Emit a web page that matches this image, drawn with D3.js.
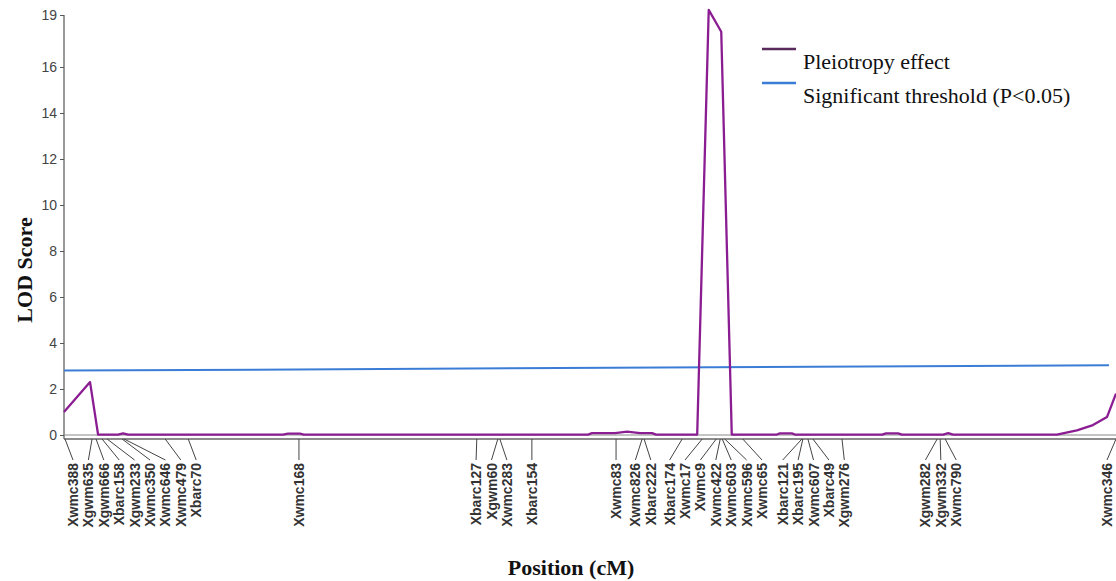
<!DOCTYPE html>
<html lang="en">
<head>
    <meta charset="UTF-8">
    <title>LOD profile</title>
    <script src="https://d3js.org/d3.v7.min.js"></script>
    <style>
        body { margin: 0; background: #fff; }
    </style>
</head>
<body>
    <svg id="chart" width="1116" height="581"></svg>
    <script>
        // markers on the linkage map (cM)
        const markerNames = ["Xwmc388", "Xgwm635", "Xgwm666", "Xbarc158", "Xgwm233", "Xwmc350", "Xwmc646", "Xwmc479", "Xbarc70",
            "Xwmc168", "Xbarc127", "Xgwm60", "Xwmc283", "Xbarc154", "Xwmc83", "Xwmc826", "Xbarc222", "Xbarc174",
            "Xwmc17", "Xwmc9", "Xwmc422", "Xwmc603", "Xwmc596", "Xwmc65", "Xbarc121", "Xbarc195", "Xwmc607",
            "Xbarc49", "Xgwm276", "Xgwm282", "Xgwm332", "Xwmc790", "Xwmc346"];
        const markerPos = [0.2, 5.6, 6.4, 7.6, 8.6, 11.6, 12.0, 20.2, 24.8,
            46.9, 82.4, 86.6, 87.0, 93.4, 110.2, 115.4, 115.8, 123.4,
            127.4, 130.2, 131.0, 131.4, 131.9, 135.5, 147.3, 147.5, 148.5,
            149.5, 155.3, 174.3, 174.9, 175.9, 210.0];

        // pleiotropy LOD profile
        const lodPos = [0, 5.2, 6.8, 10.8, 11.8, 12.8, 43.7, 44.7, 47.1, 47.9,
            104.6, 105.4, 110.0, 112.4, 115.0, 117.4, 118.2, 126.4, 128.7, 131.2, 133.3,
            142.3, 142.9, 145.3, 145.9, 163.3, 164.1, 166.5, 167.3, 175.5, 176.5, 177.5,
            198.2, 202.2, 205.4, 208.2, 210.0];
        const lodVal = [1.0, 2.3, 0.02, 0.02, 0.07, 0.02, 0.02, 0.06, 0.06, 0.02,
            0.02, 0.08, 0.08, 0.15, 0.08, 0.08, 0.02, 0.02, 18.48, 17.53, 0.02,
            0.02, 0.07, 0.07, 0.02, 0.02, 0.07, 0.07, 0.02, 0.02, 0.08, 0.02,
            0.02, 0.2, 0.43, 0.78, 1.8];

        // significance threshold (P<0.05)
        const thrPos = [0, 208.6];
        const thrVal = [2.8, 3.03];

        const yTickValues = [0, 2, 4, 6, 8, 10, 12, 14, 16, 18.26];
        const yTickLabels = ["0", "2", "4", "6", "8", "10", "12", "14", "16", "19"];

        const legendLabels = ["Pleiotropy effect", "Significant threshold (P<0.05)"];
        const legendColors = ["#5a2a5c", "#3b7dd6"];

        const svg = d3.select("#chart");
        const left = 64, right = 1116, zeroY = 435, topY = 15;
        const serif = "Liberation Serif, Times New Roman, serif";
        const sans = "Liberation Sans, Arial, sans-serif";

        const x = d3.scaleLinear().domain([0, 210]).range([left, right]);
        const y = d3.scaleLinear().domain([0, 18.26]).range([zeroY, topY]);

        // y axis
        const yAxis = svg.append("g")
            .attr("transform", `translate(${left},0)`)
            .call(d3.axisLeft(y)
                .tickValues(yTickValues)
                .tickFormat((d, i) => yTickLabels[i])
                .tickSize(4)
                .tickSizeOuter(0));
        yAxis.select(".domain").remove();
        yAxis.selectAll("line").attr("stroke", "#555");
        yAxis.selectAll("text")
            .attr("font-family", sans)
            .attr("font-size", 14)
            .attr("fill", "#444");
        svg.append("line")
            .attr("x1", left).attr("x2", left)
            .attr("y1", topY).attr("y2", zeroY + 4)
            .attr("stroke", "#555").attr("stroke-width", 1.2);

        // base lines (zero line + map line)
        svg.append("line")
            .attr("x1", left).attr("x2", right)
            .attr("y1", y(0)).attr("y2", y(0))
            .attr("stroke", "#888").attr("stroke-width", 1);
        svg.append("line")
            .attr("x1", left).attr("x2", right)
            .attr("y1", zeroY + 4).attr("y2", zeroY + 4)
            .attr("stroke", "#666").attr("stroke-width", 1.5);

        // threshold line
        const thrData = thrPos.map((p, i) => ({p, v: thrVal[i]}));
        svg.append("path")
            .datum(thrData)
            .attr("fill", "none")
            .attr("stroke", legendColors[1])
            .attr("stroke-width", 2)
            .attr("d", d3.line().x(d => x(d.p)).y(d => y(d.v)));

        // LOD curve
        const lodData = lodPos.map((p, i) => ({p, v: lodVal[i]}));
        svg.append("path")
            .datum(lodData)
            .attr("fill", "none")
            .attr("stroke", "#8b1d92")
            .attr("stroke-width", 2.3)
            .attr("stroke-linejoin", "round")
            .attr("d", d3.line().x(d => x(d.p)).y(d => y(d.v)));

        // spread marker labels so they don't overlap
        const gap = 15.4, minX = 73, maxX = 1107;
        function dodge(targets) {
            let groups = targets.map((t, i) => ({idx: [i], pos: t}));
            const place = g => {
                const mean = d3.mean(g.idx, i => targets[i]);
                let start = mean - gap * (g.idx.length - 1) / 2;
                start = Math.max(minX, Math.min(start, maxX - gap * (g.idx.length - 1)));
                g.pos = start;
            };
            groups.forEach(place);
            let merged = true;
            while (merged) {
                merged = false;
                for (let k = 0; k < groups.length - 1; k++) {
                    const a = groups[k], b = groups[k + 1];
                    if (a.pos + gap * (a.idx.length - 1) + gap > b.pos) {
                        a.idx = a.idx.concat(b.idx);
                        groups.splice(k + 1, 1);
                        place(a);
                        merged = true;
                        break;
                    }
                }
            }
            const out = [];
            groups.forEach(g => g.idx.forEach((i, j) => out[i] = g.pos + j * gap));
            return out;
        }
        const labelX = dodge(markerPos.map(p => x(p)));

        const markers = svg.append("g");
        markers.selectAll("line")
            .data(markerNames)
            .join("line")
            .attr("x1", (d, i) => x(markerPos[i]))
            .attr("y1", zeroY + 4)
            .attr("x2", (d, i) => labelX[i])
            .attr("y2", zeroY + 25)
            .attr("stroke", "#444")
            .attr("stroke-width", 1);
        markers.selectAll("text")
            .data(markerNames)
            .join("text")
            .attr("transform", (d, i) => `translate(${labelX[i]},${zeroY + 28}) rotate(-90)`)
            .attr("text-anchor", "end")
            .attr("dy", "0.36em")
            .attr("font-family", sans)
            .attr("font-weight", "bold")
            .attr("font-size", 14)
            .attr("fill", "#333")
            .text(d => d);

        // legend
        const legend = svg.append("g").attr("transform", "translate(762,49)");
        legendLabels.forEach((lab, i) => {
            legend.append("line")
                .attr("x1", 0).attr("x2", 34)
                .attr("y1", i * 34).attr("y2", i * 34)
                .attr("stroke", legendColors[i])
                .attr("stroke-width", 2.5);
            legend.append("text")
                .attr("x", 41)
                .attr("y", i * 34 + 20)
                .attr("font-family", serif)
                .attr("font-size", 22)
                .attr("fill", "#111")
                .text(lab);
        });

        // axis titles
        svg.append("text")
            .attr("transform", "translate(32,270) rotate(-90)")
            .attr("text-anchor", "middle")
            .attr("font-family", serif)
            .attr("font-weight", "bold")
            .attr("font-size", 22)
            .attr("fill", "#111")
            .text("LOD Score");
        svg.append("text")
            .attr("x", 571)
            .attr("y", 575)
            .attr("text-anchor", "middle")
            .attr("font-family", serif)
            .attr("font-weight", "bold")
            .attr("font-size", 22)
            .attr("fill", "#111")
            .text("Position (cM)");
    </script>
</body>
</html>
